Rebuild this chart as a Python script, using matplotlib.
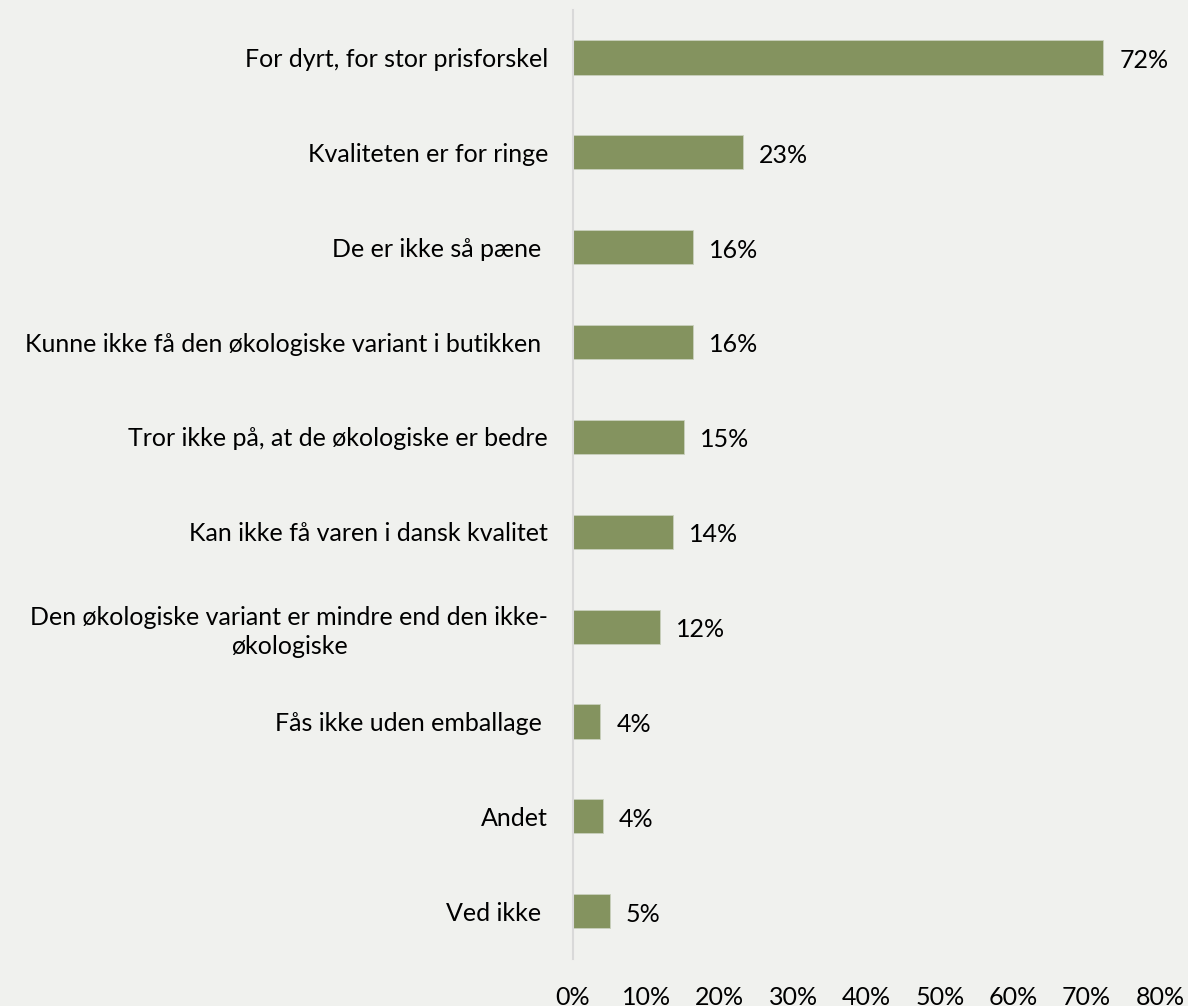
import matplotlib.pyplot as plt

# kategorier og andele (%)
kategorier = ["For dyrt, for stor prisforskel",
              "Kvaliteten er for ringe",
              "De er ikke så pæne ",
              "Kunne ikke få den økologiske variant i butikken ",
              "Tror ikke på, at de økologiske er bedre",
              "Kan ikke få varen i dansk kvalitet",
              "Den økologiske variant er mindre end den ikke-\nøkologiske",
              "Fås ikke uden emballage ",
              "Andet",
              "Ved ikke "]
andele = [72.3, 23.2, 16.3, 16.3, 15.1, 13.6, 11.9, 3.7, 4.1, 5.0]
etiketter = ["72%", "23%", "16%", "16%", "15%", "14%", "12%", "4%", "4%", "5%"]
xticks = [0, 10, 20, 30, 40, 50, 60, 70, 80]

plt.rcParams['font.family'] = ['Lato', 'DejaVu Sans']
bg = "#f0f1ee"
fig = plt.figure(figsize=(11.88, 10.06), dpi=100, facecolor=bg)
ax = fig.add_axes([0.4823, 0.047, 0.4941, 0.943], facecolor=bg)

y = list(range(len(kategorier)))
ax.barh(y, andele, height=0.36, color="#84935f", edgecolor="#c9d0bd", linewidth=0.6)
for i in y:
    ax.text(andele[i] + 2.2, i + 0.03, etiketter[i], va="center", ha="left", fontsize=18, color="black")

ax.set_ylim(9.5, -0.5)
ax.set_xlim(0, 80)
ax.set_yticks(y)
ax.set_yticklabels(kategorier, fontsize=18, multialignment="center", linespacing=1.35)
ax.set_xticks(xticks)
ax.set_xticklabels([str(t) + "%" for t in xticks], fontsize=18)
ax.tick_params(axis="y", length=0, pad=18)
ax.tick_params(axis="x", length=0, pad=20)
for s in ["top", "right", "bottom"]:
    ax.spines[s].set_visible(False)
ax.spines["left"].set_color("#d9d9d9")
ax.spines["left"].set_linewidth(1.5)

fig.savefig("out.png", dpi=100, facecolor=bg)
